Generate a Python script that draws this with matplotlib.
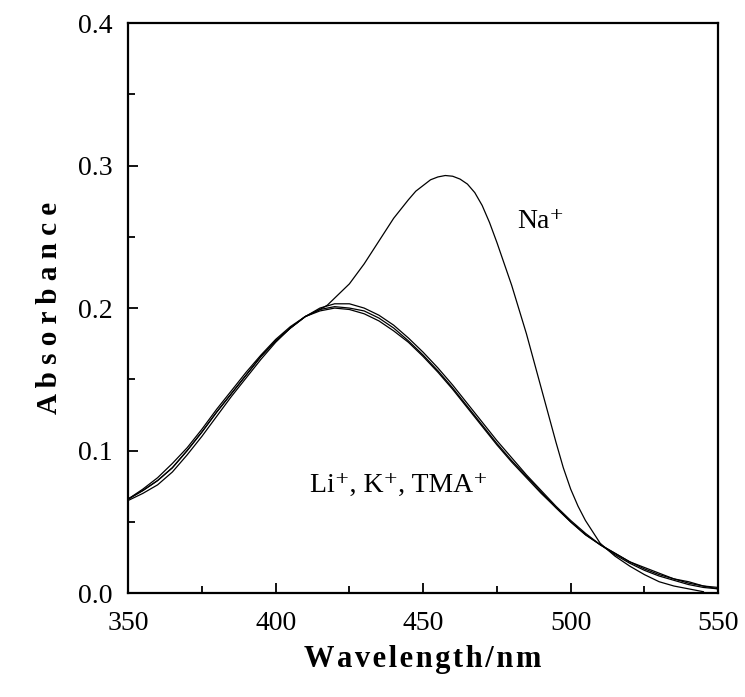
import matplotlib
matplotlib.use("Agg")
import matplotlib.pyplot as plt
from matplotlib.ticker import MultipleLocator

# wavelength grid (nm)
wavelength = [350, 355, 360, 365, 370, 375, 380, 385, 390, 395,
              400, 405, 410, 415, 420, 425, 430, 435, 440, 445,
              450, 455, 460, 465, 470, 475, 480, 485, 490, 495,
              500, 505, 510, 515, 520, 525, 530, 535, 540, 545, 550]

# absorbance
abs_li = [0.066, 0.072, 0.079, 0.088, 0.100, 0.113, 0.127, 0.140, 0.153, 0.166,
          0.177, 0.186, 0.194, 0.199, 0.201, 0.200, 0.198, 0.193, 0.186, 0.177,
          0.167, 0.156, 0.144, 0.131, 0.118, 0.105, 0.093, 0.082, 0.071, 0.060,
          0.050, 0.041, 0.034, 0.028, 0.022, 0.017, 0.013, 0.010, 0.007, 0.005, 0.003]

abs_k = [0.065, 0.070, 0.076, 0.085, 0.097, 0.110, 0.124, 0.138, 0.151, 0.164,
         0.176, 0.186, 0.194, 0.200, 0.203, 0.203, 0.200, 0.195, 0.188, 0.179,
         0.169, 0.158, 0.146, 0.133, 0.120, 0.107, 0.095, 0.083, 0.072, 0.061,
         0.051, 0.042, 0.034, 0.027, 0.021, 0.016, 0.012, 0.009, 0.006, 0.004, 0.003]

abs_tma = [0.066, 0.073, 0.081, 0.091, 0.102, 0.115, 0.129, 0.142, 0.155, 0.167,
           0.178, 0.187, 0.194, 0.198, 0.200, 0.199, 0.196, 0.191, 0.184, 0.176,
           0.166, 0.155, 0.143, 0.130, 0.117, 0.104, 0.092, 0.081, 0.070, 0.060,
           0.050, 0.041, 0.034, 0.028, 0.022, 0.018, 0.014, 0.010, 0.008, 0.005, 0.004]

# Na+ spectrum, read more densely around the band
wavelength_na = [350, 355, 360, 365, 370, 375, 380, 385, 390, 395,
                 400, 405, 410, 415, 417.5, 420, 425, 430, 435, 440,
                 445, 447.5, 450, 452.5, 455, 457.5, 460, 462.5, 465, 467.5,
                 470, 472.5, 475, 480, 485, 490, 495, 497.5, 500, 502.5,
                 505, 510, 515, 520, 525, 530, 535, 540, 545]
abs_na = [0.066, 0.072, 0.079, 0.088, 0.100, 0.113, 0.127, 0.140, 0.153, 0.166,
          0.177, 0.186, 0.194, 0.199, 0.202, 0.207, 0.217, 0.231, 0.247, 0.263,
          0.276, 0.282, 0.286, 0.290, 0.292, 0.293, 0.2925, 0.2905, 0.287, 0.281,
          0.272, 0.260, 0.246, 0.216, 0.182, 0.144, 0.106, 0.088, 0.073, 0.061,
          0.051, 0.035, 0.026, 0.019, 0.013, 0.008, 0.005, 0.003, 0.001]

SERIF = ["Liberation Serif", "DejaVu Serif"]

fig = plt.figure(figsize=(7.45, 6.97), dpi=100)
ax = fig.add_axes([0.172, 0.149, 0.792, 0.818])

for y in (abs_li, abs_k, abs_tma):
    ax.plot(wavelength, y, color="black", lw=0.9)
ax.plot(wavelength_na, abs_na, color="black", lw=0.9)

ax.text(482, 0.256, "Na\u207a", fontsize=20, family=SERIF)
ax.text(411.5, 0.071, "Li\u207a, K\u207a, TMA\u207a", fontsize=20, family=SERIF)

ax.set_xlim(350, 550)
ax.set_ylim(0, 0.4)
ax.xaxis.set_major_locator(MultipleLocator(50))
ax.xaxis.set_minor_locator(MultipleLocator(25))
ax.yaxis.set_major_locator(MultipleLocator(0.1))
ax.yaxis.set_minor_locator(MultipleLocator(0.05))
ax.xaxis.set_major_formatter(plt.FuncFormatter(lambda v, p: f"{v:.0f}"))
ax.yaxis.set_major_formatter(plt.FuncFormatter(lambda v, p: f"{v:.1f}"))

ax.tick_params(which="both", direction="in", top=False, right=False, width=1.3)
ax.tick_params(which="major", length=7)
ax.tick_params(which="minor", length=5)
ax.tick_params(axis="x", pad=13)
ax.tick_params(axis="y", pad=11)
for lab in ax.get_xticklabels() + ax.get_yticklabels():
    lab.set_family(SERIF)
    lab.set_fontsize(20)

for sp in ax.spines.values():
    sp.set_linewidth(1.6)

ax.set_xlabel("\u200a".join("Wavelength/nm"), fontsize=22, fontweight="bold",
              family=SERIF, labelpad=6)
ax.set_ylabel("A b s o r b a n c e", fontsize=21, fontweight="bold", family=SERIF,
              labelpad=11)

fig.savefig("out.png", dpi=100)
